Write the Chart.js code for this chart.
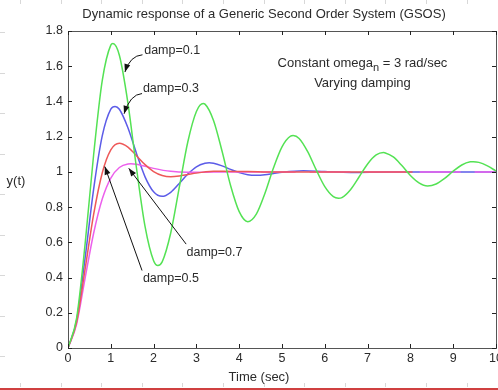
<!DOCTYPE html>
<html>
<head>
<meta charset="utf-8">
<script src="https://cdn.jsdelivr.net/npm/chart.js@4.4.1/dist/chart.umd.min.js"></script>
<style>
    html, body { margin: 0; padding: 0; background: #fff; }
    #wrap { width: 498px; height: 390px; }
</style>
</head>
<body>
<div id="wrap"><canvas id="gsosChart" width="498" height="390"></canvas></div>
<script>
    // step responses (omega_n = 3 rad/s)
    const timeDamp01 = [0, 0.2, 0.4, 0.6, 0.8, 1.0, 1.05, 1.2, 1.4, 1.6, 1.8, 2.0, 2.1, 2.2, 2.4, 2.6, 2.8, 3.0, 3.16, 3.2,
        3.4, 3.6, 3.8, 4.0, 4.2, 4.4, 4.6, 4.8, 5.0, 5.2, 5.26, 5.4, 5.6, 5.8, 6.0, 6.2, 6.32, 6.4, 6.6, 6.8,
        7.0, 7.2, 7.37, 7.4, 7.6, 7.8, 8.0, 8.2, 8.4, 8.6, 8.8, 9.0, 9.2, 9.4, 9.47, 9.6, 9.8, 10];
    const respDamp01 = [0, 0.168, 0.591, 1.100, 1.518, 1.720, 1.729, 1.662, 1.391, 1.022, 0.690, 0.495, 0.468, 0.489, 0.653, 0.912, 1.171, 1.343, 1.388, 1.385,
        1.292, 1.117, 0.921, 0.774, 0.717, 0.760, 0.877, 1.022, 1.142, 1.203, 1.206, 1.190, 1.115, 1.011, 0.916, 0.859, 0.850, 0.854, 0.899, 0.971,
        1.045, 1.096, 1.110, 1.109, 1.085, 1.036, 0.980, 0.938, 0.920, 0.931, 0.963, 1.004, 1.039, 1.057, 1.058, 1.054, 1.034, 1.005];

    const timeDamp03 = [0, 0.2, 0.4, 0.6, 0.8, 1.0, 1.1, 1.2, 1.4, 1.6, 1.8, 2.0, 2.2, 2.4, 2.6, 2.8, 3.0, 3.2, 3.3, 3.4,
        3.6, 3.8, 4.0, 4.2, 4.4, 4.6, 4.8, 5.0, 5.5, 6.0, 6.6, 7.5, 10];
    const respDamp03 = [0, 0.155, 0.512, 0.904, 1.204, 1.356, 1.372, 1.356, 1.251, 1.105, 0.972, 0.887, 0.861, 0.884, 0.934, 0.988, 1.029, 1.049, 1.052, 1.049,
        1.034, 1.014, 0.996, 0.984, 0.981, 0.984, 0.991, 0.998, 1.007, 1.002, 0.997, 1.000, 1.000];

    const timeDamp05 = [0, 0.2, 0.4, 0.6, 0.8, 1.0, 1.2, 1.4, 1.6, 1.8, 2.0, 2.2, 2.4, 2.6, 2.8, 3.0, 3.4, 3.63, 4.2, 4.84, 6.0, 8.05];
    const respDamp05 = [0, 0.145, 0.449, 0.760, 0.994, 1.125, 1.163, 1.141, 1.092, 1.041, 1.002, 0.980, 0.973, 0.977, 0.985, 0.993, 1.003, 1.004, 1.002, 0.999, 1.000, 1.000];

    const timeDamp07 = [0, 0.2, 0.4, 0.6, 0.8, 1.0, 1.2, 1.4, 1.47, 1.6, 1.8, 2.0, 2.4, 2.8, 3.4, 4.5, 10];
    const respDamp07 = [0, 0.135, 0.397, 0.653, 0.846, 0.965, 1.025, 1.045, 1.046, 1.043, 1.032, 1.020, 1.003, 0.998, 0.999, 1.000, 1.000];

    const xTickValues = [0, 1, 2, 3, 4, 5, 6, 7, 8, 9, 10];
    const yTickValues = [0, 0.2, 0.4, 0.6, 0.8, 1.0, 1.2, 1.4, 1.6, 1.8];

    const FONT = "'Liberation Sans', Arial, Helvetica, sans-serif";
    const INK = '#2b2b2b';

    // text + arrow callouts, in data units
    const callouts = [
        { text: 'damp=0.1', at: [1.78, 1.69], from: [1.74, 1.665], to: [1.33, 1.567], bend: [1.45, 1.66] },
        { text: 'damp=0.3', at: [1.75, 1.476], from: [1.73, 1.445], to: [1.31, 1.33], bend: [1.45, 1.44] },
        { text: 'damp=0.7', at: [2.77, 0.54], from: [2.76, 0.59], to: [1.42, 1.02] },
        { text: 'damp=0.5', at: [1.75, 0.395], from: [1.73, 0.44], to: [0.86, 1.03] }
    ];

    function toPoints(ts, ys) {
        return ts.map((t, i) => ({ x: t, y: ys[i] }));
    }

    function drawArrow(ctx, x0, y0, x1, y1, bx, by) {
        ctx.beginPath();
        ctx.moveTo(x0, y0);
        let dx, dy;
        if (bx !== undefined) {
            ctx.quadraticCurveTo(bx, by, x1, y1);
            dx = x1 - bx; dy = y1 - by;
        } else {
            ctx.lineTo(x1, y1);
            dx = x1 - x0; dy = y1 - y0;
        }
        ctx.stroke();
        const len = Math.hypot(dx, dy) || 1;
        const ux = dx / len, uy = dy / len;
        const hl = 8, hw = 3;
        ctx.beginPath();
        ctx.moveTo(x1, y1);
        ctx.lineTo(x1 - ux * hl - uy * hw, y1 - uy * hl + ux * hw);
        ctx.lineTo(x1 - ux * hl + uy * hw, y1 - uy * hl - ux * hw);
        ctx.closePath();
        ctx.fill();
    }

    const figurePlugin = {
        id: 'figureDecor',
        beforeDraw(chart) {
            const ctx = chart.ctx;
            ctx.save();
            ctx.fillStyle = '#ffffff';
            ctx.fillRect(0, 0, chart.width, chart.height);
            // faint ruler marks along the screenshot edges
            ctx.strokeStyle = '#d8d8d8';
            ctx.lineWidth = 1;
            for (let x = 20; x < chart.width; x += 40.6) {
                ctx.beginPath(); ctx.moveTo(Math.round(x) + 0.5, 0); ctx.lineTo(Math.round(x) + 0.5, 4); ctx.stroke();
                ctx.beginPath(); ctx.moveTo(Math.round(x) + 0.5, 383); ctx.lineTo(Math.round(x) + 0.5, 387); ctx.stroke();
            }
            for (let y = 32; y < 370; y += 40.5) {
                ctx.beginPath(); ctx.moveTo(0, Math.round(y) + 0.5); ctx.lineTo(5, Math.round(y) + 0.5); ctx.stroke();
            }
            ctx.fillStyle = '#d04040';
            ctx.fillRect(0, 388, chart.width, 2);
            ctx.restore();
        },
        afterDraw(chart) {
            const ctx = chart.ctx;
            const area = chart.chartArea;
            const xs = chart.scales.x;
            const ys = chart.scales.y;
            ctx.save();

            // axes box and inward ticks
            ctx.strokeStyle = '#555';
            ctx.lineWidth = 1;
            ctx.strokeRect(Math.round(area.left) + 0.5, Math.round(area.top) + 0.5,
                Math.round(area.right - area.left), Math.round(area.bottom - area.top));
            ctx.strokeStyle = '#222';
            xTickValues.forEach(v => {
                const px = Math.round(xs.getPixelForValue(v)) + 0.5;
                ctx.beginPath();
                ctx.moveTo(px, area.bottom); ctx.lineTo(px, area.bottom - 4);
                ctx.moveTo(px, area.top); ctx.lineTo(px, area.top + 4);
                ctx.stroke();
            });
            yTickValues.forEach(v => {
                const py = Math.round(ys.getPixelForValue(v)) + 0.5;
                ctx.beginPath();
                ctx.moveTo(area.left, py); ctx.lineTo(area.left + 4, py);
                ctx.moveTo(area.right, py); ctx.lineTo(area.right - 4, py);
                ctx.stroke();
            });

            // title and axis labels
            ctx.fillStyle = INK;
            ctx.textBaseline = 'middle';
            ctx.textAlign = 'center';
            ctx.font = '13px ' + FONT;
            ctx.fillText('Dynamic response of a Generic Second Order System (GSOS)', 264, 14);
            ctx.fillText('Time (sec)', 259, 377);
            ctx.fillText('y(t)', 16, 181);

            // system note with subscript
            const part1 = 'Constant omega';
            const sub = 'n';
            const part2 = ' = 3 rad/sec';
            ctx.font = '13px ' + FONT;
            const w1 = ctx.measureText(part1).width;
            const w3 = ctx.measureText(part2).width;
            ctx.font = '11px ' + FONT;
            const w2 = ctx.measureText(sub).width;
            const cx = xs.getPixelForValue(6.88);
            const cy = ys.getPixelForValue(1.618);
            let left = cx - (w1 + w2 + w3) / 2;
            ctx.textAlign = 'left';
            ctx.font = '13px ' + FONT;
            ctx.fillText(part1, left, cy);
            ctx.font = '11px ' + FONT;
            ctx.fillText(sub, left + w1, cy + 5);
            ctx.font = '13px ' + FONT;
            ctx.fillText(part2, left + w1 + w2, cy);
            ctx.textAlign = 'center';
            ctx.fillText('Varying damping', cx, ys.getPixelForValue(1.505));

            // damping callouts
            ctx.textAlign = 'left';
            ctx.font = '12.5px ' + FONT;
            ctx.strokeStyle = '#111';
            ctx.fillStyle = '#111';
            ctx.lineWidth = 1;
            callouts.forEach(c => {
                const x0 = xs.getPixelForValue(c.from[0]), y0 = ys.getPixelForValue(c.from[1]);
                const x1 = xs.getPixelForValue(c.to[0]), y1 = ys.getPixelForValue(c.to[1]);
                if (c.bend) {
                    drawArrow(ctx, x0, y0, x1, y1, xs.getPixelForValue(c.bend[0]), ys.getPixelForValue(c.bend[1]));
                } else {
                    drawArrow(ctx, x0, y0, x1, y1);
                }
                ctx.fillStyle = INK;
                ctx.fillText(c.text, xs.getPixelForValue(c.at[0]), ys.getPixelForValue(c.at[1]));
                ctx.fillStyle = '#111';
            });
            ctx.restore();
        }
    };

    function lineSet(label, ts, ys, color, extra) {
        return Object.assign({
            label: label,
            data: toPoints(ts, ys),
            borderColor: color,
            borderWidth: 1.5,
            pointRadius: 0,
            fill: false,
            cubicInterpolationMode: 'monotone'
        }, extra || {});
    }

    new Chart(document.getElementById('gsosChart'), {
        type: 'line',
        data: {
            datasets: [
                lineSet('damp=0.1', timeDamp01, respDamp01, 'rgb(84, 226, 84)'),
                lineSet('damp=0.5', timeDamp05, respDamp05, 'rgb(238, 88, 88)'),
                lineSet('damp=0.7', timeDamp07, respDamp07, 'rgb(236, 96, 236)', {
                    segment: { borderDash: ctx => ctx.p0.parsed.x >= 4.5 ? [41, 14] : undefined },
                    borderDashOffset: 6
                }),
                lineSet('damp=0.3', timeDamp03, respDamp03, 'rgb(92, 92, 232)')
            ]
        },
        options: {
            responsive: false,
            animation: false,
            events: [],
            layout: { autoPadding: false, padding: { left: 0, top: 31, right: 2, bottom: 0 } },
            plugins: { legend: { display: false }, title: { display: false }, tooltip: { enabled: false } },
            scales: {
                x: {
                    type: 'linear',
                    min: 0,
                    max: 10,
                    afterBuildTicks: s => { s.ticks = xTickValues.map(v => ({ value: v })); },
                    afterFit: s => { s.height = 42; s.paddingLeft = 0; s.paddingRight = 0; },
                    grid: { display: false, drawTicks: false, tickLength: 0 },
                    border: { display: false },
                    ticks: { padding: 3, maxRotation: 0, autoSkip: false, color: INK, font: { family: FONT, size: 12.5 } }
                },
                y: {
                    min: 0,
                    max: 1.8,
                    afterBuildTicks: s => { s.ticks = yTickValues.map(v => ({ value: v })); },
                    afterFit: s => { s.width = 68; s.paddingTop = 0; s.paddingBottom = 0; },
                    grid: { display: false, drawTicks: false, tickLength: 0 },
                    border: { display: false },
                    ticks: {
                        padding: 5,
                        autoSkip: false,
                        color: INK,
                        font: { family: FONT, size: 12.5 },
                        callback: v => String(Number(v.toFixed(1)))
                    }
                }
            }
        },
        plugins: [figurePlugin]
    });
</script>
</body>
</html>
